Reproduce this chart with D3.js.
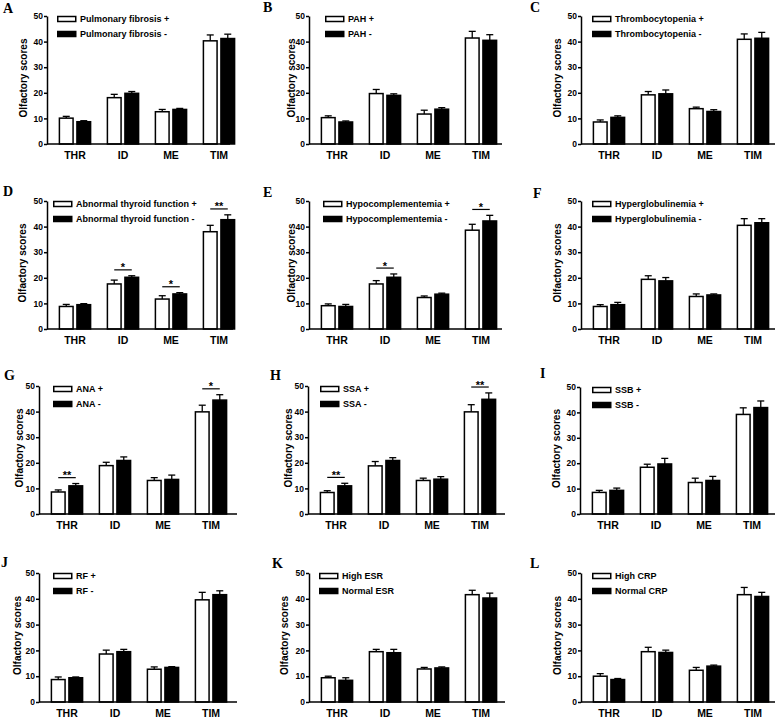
<!DOCTYPE html>
<html>
<head>
<meta charset="utf-8">
<script src="https://cdn.jsdelivr.net/npm/d3@7"></script>
<style>
body { margin: 0; background: #fff; }
text { font-family: "Liberation Sans", Arial, sans-serif; font-weight: bold; fill: #000; }
.letter { font-family: "Liberation Serif", "Times New Roman", serif; font-size: 14px; }
</style>
</head>
<body>
<div id="fig"></div>
<script>
// chart data
var categories = ['THR', 'ID', 'ME', 'TIM'];
var panelLetters = ['A', 'B', 'C', 'D', 'E', 'F', 'G', 'H', 'I', 'J', 'K', 'L'];
var legendPos = ['Pulmonary fibrosis +', 'PAH +', 'Thrombocytopenia +', 'Abnormal thyroid function +',
  'Hypocomplementemia +', 'Hyperglobulinemia +', 'ANA +', 'SSA +', 'SSB +', 'RF +', 'High ESR', 'High CRP'];
var legendNeg = ['Pulmonary fibrosis -', 'PAH -', 'Thrombocytopenia -', 'Abnormal thyroid function -',
  'Hypocomplementemia -', 'Hyperglobulinemia -', 'ANA -', 'SSA -', 'SSB -', 'RF -', 'Normal ESR', 'Normal CRP'];
var posMeans = [
  [10.1, 18.1, 12.6, 40.3], [10.3, 19.7, 11.7, 41.4], [8.6, 19.2, 13.8, 40.9],
  [8.8, 17.6, 11.7, 38.0], [9.1, 17.6, 12.3, 38.6], [8.8, 19.4, 12.7, 40.5],
  [8.6, 18.9, 13.1, 39.9], [8.4, 18.8, 13.1, 39.9], [8.5, 18.4, 12.4, 39.2],
  [8.7, 18.6, 12.7, 39.6], [9.4, 19.5, 12.8, 41.6], [10.0, 19.5, 12.3, 41.6]
];
var posErr = [
  [0.7, 1.3, 0.9, 2.3], [0.7, 1.6, 1.5, 2.6], [0.8, 1.3, 0.6, 2.1],
  [0.8, 1.5, 1.3, 2.5], [0.7, 1.3, 0.6, 2.3], [0.7, 1.4, 1.0, 2.6],
  [0.8, 1.3, 1.1, 2.6], [0.7, 1.7, 0.9, 2.8], [0.8, 1.2, 1.7, 2.6],
  [1.0, 1.5, 0.9, 2.9], [0.6, 0.9, 0.6, 1.7], [1.0, 1.7, 1.1, 2.8]
];
var negMeans = [
  [8.7, 19.8, 13.5, 41.2], [8.6, 19.0, 13.6, 40.5], [10.4, 19.6, 12.7, 41.3],
  [9.5, 20.2, 13.7, 42.7], [8.8, 20.2, 13.6, 42.2], [9.5, 18.8, 13.3, 41.5],
  [11.0, 20.9, 13.5, 44.5], [11.0, 20.9, 13.6, 44.8], [9.3, 19.7, 13.2, 41.9],
  [9.4, 19.5, 13.4, 41.6], [8.4, 19.1, 13.2, 40.3], [8.7, 19.2, 13.9, 40.9]
];
var negErr = [
  [0.4, 0.7, 0.4, 1.7], [0.4, 0.6, 0.6, 2.2], [0.6, 1.5, 0.7, 2.3],
  [0.4, 0.6, 0.5, 1.9], [0.8, 1.3, 0.4, 2.2], [0.9, 1.3, 0.4, 1.6],
  [0.9, 1.4, 1.7, 2.1], [1.0, 1.1, 1.0, 2.5], [0.9, 2.2, 1.6, 2.6],
  [0.3, 0.9, 0.3, 1.5], [1.0, 1.3, 0.4, 1.9], [0.4, 0.9, 0.4, 1.6]
];
var yTicks = [0, 10, 20, 30, 40, 50];
var yTitle = 'Olfactory scores';
var signif = [
  { panel: 'D', cat: 'ID', mark: '*' }, { panel: 'D', cat: 'ME', mark: '*' }, { panel: 'D', cat: 'TIM', mark: '**' },
  { panel: 'E', cat: 'ID', mark: '*' }, { panel: 'E', cat: 'TIM', mark: '*' },
  { panel: 'G', cat: 'THR', mark: '**' }, { panel: 'G', cat: 'TIM', mark: '*' },
  { panel: 'H', cat: 'THR', mark: '**' }, { panel: 'H', cat: 'TIM', mark: '**' }
];

// panel frames (layout only)
var frames = [
  { x0: 47, x1: 230, top: 16, bot: 144, lx: 3, ly: 13, leg: 10, tx: 23 },
  { x0: 309, x1: 502, top: 16, bot: 144, lx: 263, ly: 12, leg: 16, tx: 291 },
  { x0: 581, x1: 775, top: 16, bot: 144, lx: 530, ly: 12, leg: 11, tx: 557 },
  { x0: 47, x1: 233, top: 201, bot: 329, lx: 3, ly: 196, leg: 6, tx: 22 },
  { x0: 309, x1: 502, top: 201, bot: 329, lx: 263, ly: 197, leg: 14, tx: 291 },
  { x0: 581, x1: 775, top: 201, bot: 329, lx: 533, ly: 198, leg: 11, tx: 557 },
  { x0: 39, x1: 237, top: 386, bot: 514, lx: 4, ly: 380, leg: 14, tx: 19 },
  { x0: 308, x1: 505, top: 386, bot: 514, lx: 270, ly: 380, leg: 12, tx: 288 },
  { x0: 580, x1: 775, top: 387, bot: 514, lx: 540, ly: 378, leg: 12, tx: 556 },
  { x0: 39, x1: 237, top: 573, bot: 702, lx: 1, ly: 567, leg: 14, tx: 17 },
  { x0: 309, x1: 505, top: 573, bot: 702, lx: 272, ly: 568, leg: 10, tx: 284 },
  { x0: 581, x1: 775, top: 573, bot: 702, lx: 530, ly: 568, leg: 11, tx: 557 }
];

var svg = d3.select('#fig').append('svg')
  .attr('width', 778)
  .attr('height', 718)
  .style('display', 'block');
svg.append('rect').attr('width', 778).attr('height', 718).attr('fill', '#fff');

panelLetters.forEach(function(letter, p) {
  var f = frames[p];
  var g = svg.append('g');

  var x = d3.scaleBand().domain(categories)
    .range([f.x0 + 4, f.x0 + 196])
    .paddingInner(0.35).paddingOuter(0.175);
  var xs = d3.scaleBand().domain(['pos', 'neg'])
    .range([0, x.bandwidth()])
    .paddingInner(0.22);
  var y = d3.scaleLinear().domain([0, 50]).range([f.bot, f.top]);

  var rows = categories.map(function(c, i) {
    return [
      { cat: c, grp: 'pos', v: posMeans[p][i], e: posErr[p][i] },
      { cat: c, grp: 'neg', v: negMeans[p][i], e: negErr[p][i] }
    ];
  });
  var bars = [].concat.apply([], rows);

  // error bars (upper only)
  var eb = g.selectAll('.err').data(bars).enter().append('g').attr('class', 'err')
    .attr('stroke', '#000').attr('stroke-width', 1.3);
  eb.append('line')
    .attr('x1', function(d) { return x(d.cat) + xs(d.grp) + xs.bandwidth() / 2; })
    .attr('x2', function(d) { return x(d.cat) + xs(d.grp) + xs.bandwidth() / 2; })
    .attr('y1', function(d) { return y(d.v); })
    .attr('y2', function(d) { return y(d.v + d.e); });
  eb.append('line')
    .attr('x1', function(d) { return x(d.cat) + xs(d.grp) + xs.bandwidth() / 2 - 3.5; })
    .attr('x2', function(d) { return x(d.cat) + xs(d.grp) + xs.bandwidth() / 2 + 3.5; })
    .attr('y1', function(d) { return y(d.v + d.e); })
    .attr('y2', function(d) { return y(d.v + d.e); });

  g.selectAll('.bar').data(bars).enter().append('rect')
    .attr('x', function(d) { return x(d.cat) + xs(d.grp); })
    .attr('y', function(d) { return y(d.v); })
    .attr('width', xs.bandwidth())
    .attr('height', function(d) { return y(0) - y(d.v); })
    .attr('fill', function(d) { return d.grp === 'pos' ? '#fff' : '#000'; })
    .attr('stroke', '#000')
    .attr('stroke-width', 1.5);

  // axes
  var ya = g.append('g').attr('transform', 'translate(' + f.x0 + ',0)')
    .call(d3.axisLeft(y).tickValues(yTicks).tickSize(3).tickSizeOuter(0).tickPadding(1));
  ya.selectAll('path, line').attr('stroke', '#000').attr('stroke-width', 1.5);
  ya.selectAll('text').style('font-size', '8.5px').style('font-family', '"Liberation Sans", Arial, sans-serif').style('font-weight', 'bold');

  g.append('line')
    .attr('x1', f.x0).attr('x2', f.x1)
    .attr('y1', f.bot).attr('y2', f.bot)
    .attr('stroke', '#000').attr('stroke-width', 1.5);

  var xa = g.append('g').attr('transform', 'translate(0,' + f.bot + ')')
    .call(d3.axisBottom(x).tickSize(0).tickPadding(8));
  xa.select('.domain').remove();
  xa.selectAll('text').style('font-size', '10.5px').style('font-family', '"Liberation Sans", Arial, sans-serif').style('font-weight', 'bold');

  // y title
  g.append('text')
    .attr('transform', 'translate(' + f.tx + ',' + ((f.top + f.bot) / 2 - 2) + ') rotate(-90)')
    .attr('text-anchor', 'middle')
    .attr('dy', '0.35em')
    .style('font-size', '10px')
    .text(yTitle);

  // legend
  var lg = g.append('g').attr('transform', 'translate(' + (f.x0 + f.leg) + ',' + f.top + ')');
  [legendPos[p], legendNeg[p]].forEach(function(label, k) {
    lg.append('rect')
      .attr('x', 0.75).attr('y', k * 15 + 0.5)
      .attr('width', 18).attr('height', 5)
      .attr('fill', k === 0 ? '#fff' : '#000')
      .attr('stroke', '#000').attr('stroke-width', 1.5);
    lg.append('text')
      .attr('x', 23).attr('y', k * 15 + 3)
      .attr('dy', '0.35em')
      .style('font-size', '9px')
      .text(label);
  });

  // panel letter
  svg.append('text').attr('class', 'letter')
    .attr('x', f.lx).attr('y', f.ly)
    .text(letter);

  // significance brackets
  signif.filter(function(s) { return s.panel === letter; }).forEach(function(s) {
    var i = categories.indexOf(s.cat);
    var top = Math.max(posMeans[p][i] + posErr[p][i], negMeans[p][i] + negErr[p][i]) + 2.3;
    var xa1 = x(s.cat) + xs('pos') + xs.bandwidth() / 2;
    var xa2 = x(s.cat) + xs('neg') + xs.bandwidth() / 2;
    g.append('line')
      .attr('x1', xa1).attr('x2', xa2)
      .attr('y1', y(top)).attr('y2', y(top))
      .attr('stroke', '#000').attr('stroke-width', 1.2);
    g.append('text')
      .attr('x', (xa1 + xa2) / 2).attr('y', y(top) + 1.5)
      .attr('text-anchor', 'middle')
      .style('font-size', '11px')
      .text(s.mark);
  });
});
</script>
</body>
</html>
